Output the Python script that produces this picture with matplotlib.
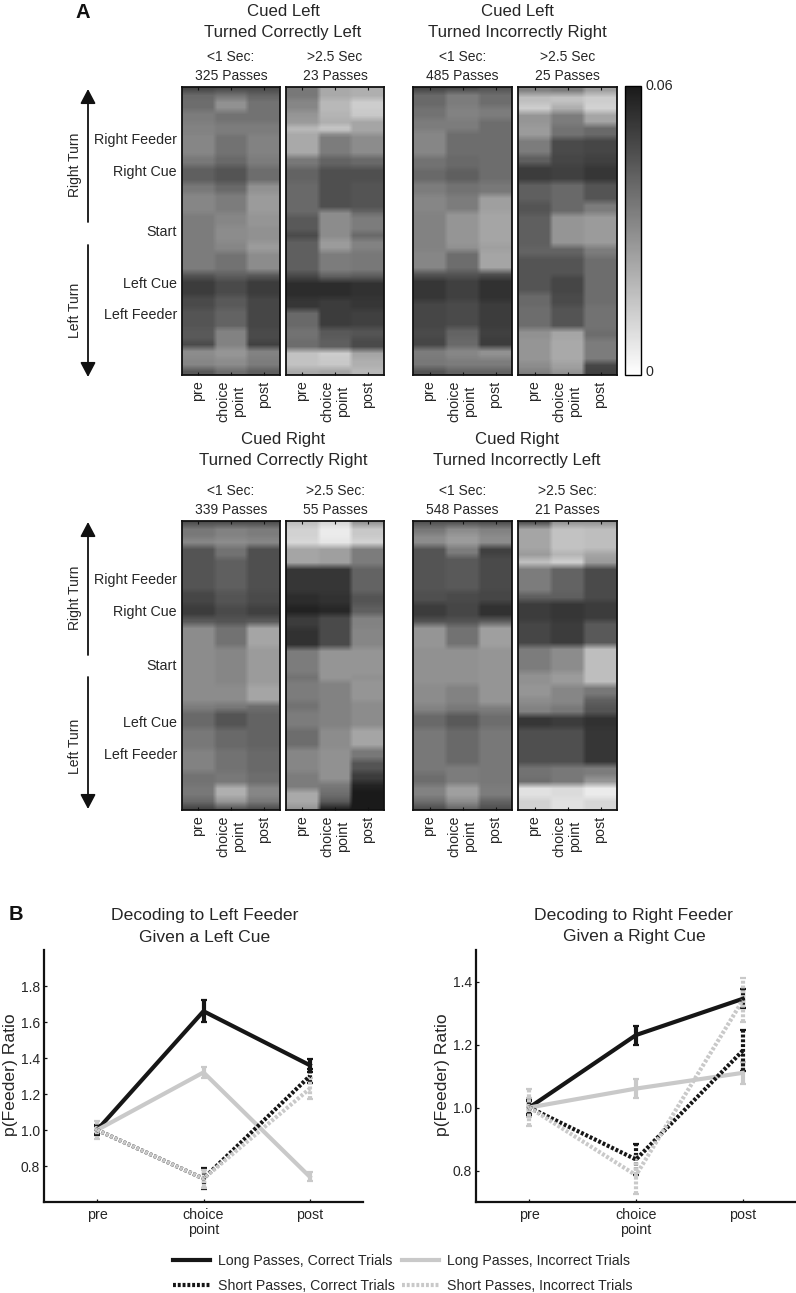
import numpy as np
import matplotlib
matplotlib.use("Agg")
import matplotlib.pyplot as plt
from matplotlib.colors import LinearSegmentedColormap
from matplotlib.transforms import ScaledTranslation

plt.rcParams['font.family'] = ['Liberation Sans', 'DejaVu Sans']
TXT = '#262626'

# ---- heat-map data: (band end, pre, choice, post), values are grey brightness
p325 = [(50,70,75,75),(70,105,115,100),(105,110,145,115),(140,125,115,115),(175,130,125,125),(240,135,115,130),
        (270,120,105,125),(320,95,85,110),(350,120,105,145),(410,135,125,155),(450,125,135,150),(500,125,140,145),
        (530,125,135,155),(590,125,115,140),(610,85,95,90),(660,60,75,60),(700,75,90,70),(760,85,100,70),
        (800,90,130,75),(820,75,130,65),(850,140,150,130),(880,135,140,125),(900,90,110,95)]
p23 = [(70,120,170,175),(105,135,185,205),(130,150,180,200),(150,155,175,165),(165,190,205,165),(175,170,165,165),
       (240,170,125,140),(275,120,100,105),(320,100,80,80),(405,105,80,85),(420,105,140,105),(470,90,140,125),
       (490,75,140,105),(525,95,155,130),(590,95,125,120),(610,70,95,90),(665,45,45,50),(705,55,60,55),
       (760,105,60,65),(790,115,90,85),(825,110,95,75),(850,195,205,165),(880,195,200,175),(900,170,165,185)]
p485 = [(50,70,75,85),(95,105,125,110),(130,115,130,125),(165,125,125,110),(240,135,110,110),(280,115,105,110),
        (320,105,95,110),(360,125,115,120),(410,135,125,160),(510,130,150,165),(530,130,145,160),(590,135,110,165),
        (610,85,85,80),(680,55,65,50),(760,70,75,60),(790,75,100,65),(820,70,105,60),(850,125,135,145),
        (880,120,125,125),(900,85,100,100)]
p25 = [(55,130,125,160),(85,190,195,205),(110,205,175,210),(150,150,125,165),(190,155,115,105),(240,125,75,70),
       (270,95,70,65),(320,60,65,55),(380,95,105,85),(415,85,105,125),(510,95,150,155),(540,100,100,125),
       (600,85,85,110),(650,85,70,110),(690,105,75,110),(760,110,85,115),(790,145,165,110),(860,150,170,125),
       (885,140,160,70),(900,125,145,65)]
p339 = [(35,80,80,80),(70,120,130,125),(95,135,140,135),(130,85,115,80),(230,85,95,80),(270,70,85,75),
        (305,60,75,65),(330,90,85,90),(395,140,115,165),(510,140,135,155),(565,140,140,165),(590,125,120,110),
        (640,105,85,100),(700,120,105,100),(770,130,115,105),(810,115,120,110),(850,120,175,135),(870,105,150,120),
        (885,70,90,80)]
p55 = [(35,190,215,150),(70,210,235,200),(95,215,230,210),(155,165,160,125),(235,55,55,100),(270,45,50,85),
       (300,35,40,95),(340,60,75,130),(400,50,75,135),(480,125,150,150),(500,115,150,145),(560,125,130,150),
       (590,115,130,140),(640,125,130,140),(700,110,140,165),(735,135,145,120),(770,135,145,85),(800,125,145,60),
       (825,125,120,35),(850,170,110,25),(870,170,90,20),(885,150,40,20)]
p548 = [(35,85,85,80),(60,120,140,130),(95,140,155,140),(125,85,125,65),(230,85,90,75),(265,80,75,70),
        (310,60,70,50),(330,85,85,95),(395,150,115,160),(510,145,145,150),(570,140,130,150),(595,130,120,125),
        (640,105,90,110),(750,120,105,120),(775,120,125,120),(810,110,125,120),(850,130,160,125),(870,110,140,100),
        (885,80,105,80)]
p21 = [(35,85,150,150),(110,165,195,190),(130,155,180,165),(155,190,205,155),(235,125,100,75),(260,95,95,75),
       (320,60,55,60),(395,70,60,90),(470,125,140,190),(510,145,155,190),(545,150,135,120),(570,140,135,95),
       (600,130,120,85),(640,55,60,50),(750,80,80,55),(785,115,120,125),(810,110,120,150),(850,225,220,235),
       (885,210,225,215)]

columns = ['pre', 'choice\npoint', 'post']
top_titles = [('Cued Left\nTurned Correctly Left', 283), ('Cued Left\nTurned Incorrectly Right', 517)]
bottom_titles = [('Cued Right\nTurned Correctly Right', 283), ('Cued Right\nTurned Incorrectly Left', 517)]
top_subs = ['<1 Sec:\n325 Passes', '>2.5 Sec\n23 Passes', '<1 Sec:\n485 Passes', '>2.5 Sec\n25 Passes']
bottom_subs = ['<1 Sec:\n339 Passes', '>2.5 Sec:\n55 Passes', '<1 Sec:\n548 Passes', '>2.5 Sec:\n21 Passes']
loc_names = ['Right Feeder', 'Right Cue', 'Start', 'Left Cue', 'Left Feeder']
top_loc_px = [140, 172, 232, 284, 315]
bottom_loc_px = [580, 612, 666, 723, 755]

# ---- line data
x_pos = [1, 2, 3]
x_labels = ['pre', 'choice\npoint', 'post']
L_long_cor, L_long_cor_e = [1.0, 1.66, 1.36], [0.02, 0.06, 0.035]
L_long_inc, L_long_inc_e = [1.0, 1.32, 0.74], [0.03, 0.03, 0.025]
L_short_cor, L_short_cor_e = [1.0, 0.73, 1.30], [0.03, 0.06, 0.04]
L_short_inc, L_short_inc_e = [1.0, 0.73, 1.23], [0.05, 0.05, 0.06]
R_long_cor, R_long_cor_e = [1.0, 1.23, 1.345], [0.02, 0.03, 0.03]
R_long_inc, R_long_inc_e = [1.0, 1.06, 1.11], [0.03, 0.03, 0.035]
R_short_cor, R_short_cor_e = [1.0, 0.835, 1.18], [0.025, 0.05, 0.065]
R_short_inc, R_short_inc_e = [1.0, 0.785, 1.34], [0.06, 0.06, 0.07]

W, H = 796, 1293
fig = plt.figure(figsize=(W/100, H/100), dpi=100, facecolor='white')

def axpx(x0, y0, x1, y1):
    return fig.add_axes([x0/W, 1-y1/H, (x1-x0)/W, (y1-y0)/H])

def ftext(x, y, s, **kw):
    kw.setdefault('color', TXT)
    return fig.text(x/W, 1-y/H, s, **kw)

cmap = LinearSegmentedColormap.from_list('g', ['#ffffff', '#1a1a1a'])

def soften(a, n, axis):
    k = np.ones(n)/n
    pw = [(0, 0), (0, 0)]
    pw[axis] = (n//2, n//2)
    pad = np.pad(a, pw, mode='edge')
    return np.apply_along_axis(lambda v: np.convolve(v, k, mode='valid'), axis, pad)

def expand(bands, start):
    out, prev = [], start
    for b in bands:
        n = max(1, int(round((b[0]-prev)/3)))
        out += [b[1:]]*n
        prev = b[0]
    a = np.repeat(np.array(out, float), 33, axis=1)
    a = soften(soften(a, 7, 0), 5, 1)
    return 0.06*(255-a)/(255-26)

def heat(x0, x1, y0, y1, bands, start):
    ax = axpx(x0, y0, x1, y1)
    im = ax.imshow(expand(bands, start), cmap=cmap, vmin=0, vmax=0.06, aspect='auto',
                   interpolation='nearest', extent=(0, 3, 1, 0))
    ax.set_xticks([0.5, 1.5, 2.5])
    ax.set_xticklabels(columns, rotation=90, fontsize=10.3, color=TXT, linespacing=1.15, va='top')
    ax.tick_params(axis='x', direction='in', length=2, width=0.8, top=True, pad=4, color='#111111')
    ax.set_yticks([])
    for s in ax.spines.values():
        s.set_linewidth(1.3)
        s.set_color('#111111')
    return im

xs = [(182, 280), (286, 384), (413, 512), (518, 617)]
for (a, b), bands in zip(xs, [p325, p23, p485, p25]):
    im = heat(a, b, 87, 375, bands, 35)
for (a, b), bands in zip(xs, [p339, p55, p548, p21]):
    heat(a, b, 521, 810, bands, 20)

# colour bar
cax = axpx(625, 86, 641, 375)
cb = fig.colorbar(im, cax=cax, ticks=[0, 0.06])
cb.ax.set_yticklabels(['0', '0.06'], fontsize=10.3, color=TXT)
cb.ax.tick_params(length=0, pad=3)
cb.outline.set_linewidth(1.0)
for lab, dy in zip(cb.ax.get_yticklabels(), [4, 2]):
    lab.set_transform(lab.get_transform() + ScaledTranslation(0, dy/100, fig.dpi_scale_trans))

for (s, cx) in top_titles:
    ftext(cx, 22, s, ha='center', va='center', fontsize=12.1, linespacing=1.48)
for (s, cx) in bottom_titles:
    ftext(cx, 450, s, ha='center', va='center', fontsize=12.1, linespacing=1.48)
for (a, b), s in zip(xs, top_subs):
    ftext((a+b)/2, 66.5, s, ha='center', va='center', fontsize=10, linespacing=1.5)
for (a, b), s in zip(xs, bottom_subs):
    ftext((a+b)/2, 500.5, s, ha='center', va='center', fontsize=10, linespacing=1.5)
for n, y in zip(loc_names, top_loc_px):
    ftext(177, y, n, ha='right', va='center', fontsize=10.3)
for n, y in zip(loc_names, bottom_loc_px):
    ftext(177, y, n, ha='right', va='center', fontsize=10.3)

def arrow(y0, y1):
    fig.add_artist(matplotlib.patches.FancyArrowPatch(
        (88/W, 1-y0/H), (88/W, 1-y1/H), transform=fig.transFigure,
        arrowstyle='-|>,head_length=5.5,head_width=2.9', lw=1.3, color='#111111',
        shrinkA=0, shrinkB=0, mutation_scale=1.6))

arrow(222, 89); arrow(245, 377); arrow(655, 522); arrow(677, 809)
for y, s in [(165, 'Right Turn'), (310, 'Left Turn'), (598, 'Right Turn'), (746, 'Left Turn')]:
    ftext(75, y, s, rotation=90, ha='center', va='center', fontsize=10)

ftext(76, 12, 'A', fontweight='bold', fontsize=14.5, ha='left', va='center', color='#111111')
ftext(9, 915, 'B', fontweight='bold', fontsize=14.5, ha='left', va='center', color='#111111')

# ---- line panels
BLK, GRY = '#161616', '#c9c9c9'
DASH = (0, (0.7, 0.45))
styles = [('Long Passes, Correct Trials', BLK, '-'), ('Long Passes, Incorrect Trials', GRY, '-'),
          ('Short Passes, Correct Trials', BLK, DASH), ('Short Passes, Incorrect Trials', GRY, DASH)]

def lines(ax, series):
    hs = []
    for (lab, c, ls), (v, e) in zip(styles, series):
        cont = ax.errorbar(x_pos, v, yerr=e, color=c, lw=3, elinewidth=3, capsize=2, capthick=1.6, label=lab)
        cont[0].set_linestyle(ls)
        for b in cont[2]:
            b.set_linestyle(ls)
        hs.append(cont[0])
    return hs

def style(ax, ylim, yt):
    ax.set_xlim(0.5, 3.5)
    ax.set_ylim(*ylim)
    ax.set_xticks(x_pos)
    ax.set_xticklabels(x_labels, fontsize=10.3, color=TXT, linespacing=1.15)
    ax.set_yticks(yt)
    ax.set_yticklabels(['%.1f' % t for t in yt], fontsize=10, color=TXT)
    ax.tick_params(axis='both', direction='in', length=2, width=0.9, color='#111111')
    ax.tick_params(axis='x', pad=4)
    ax.tick_params(axis='y', pad=3)
    for s in ['top', 'right']:
        ax.spines[s].set_visible(False)
    for s in ['left', 'bottom']:
        ax.spines[s].set_linewidth(1.6)
        ax.spines[s].set_color('#111111')
    ax.patch.set_alpha(0)

a1 = axpx(44, 950, 363, 1202)
h1 = lines(a1, [(L_long_cor, L_long_cor_e), (L_long_inc, L_long_inc_e),
                (L_short_cor, L_short_cor_e), (L_short_inc, L_short_inc_e)])
style(a1, (0.6, 2.0), [0.8, 1.0, 1.2, 1.4, 1.6, 1.8])
a2 = axpx(476, 950, 796, 1202)
lines(a2, [(R_long_cor, R_long_cor_e), (R_long_inc, R_long_inc_e),
           (R_short_cor, R_short_cor_e), (R_short_inc, R_short_inc_e)])
style(a2, (0.7, 1.5), [0.8, 1.0, 1.2, 1.4])

ftext(205, 926.5, 'Decoding to Left Feeder\nGiven a Left Cue', ha='center', va='center', fontsize=12.6, linespacing=1.52)
ftext(634, 926, 'Decoding to Right Feeder\nGiven a Right Cue', ha='center', va='center', fontsize=12.6, linespacing=1.52)
ftext(11, 1075, 'p(Feeder) Ratio', rotation=90, ha='center', va='center', fontsize=12.6)
ftext(442, 1075, 'p(Feeder) Ratio', rotation=90, ha='center', va='center', fontsize=12.6)

order = [0, 2, 1, 3]
leg = fig.legend([h1[i] for i in order], [styles[i][0] for i in order], ncol=2, loc='upper left',
                 bbox_to_anchor=(173/W, 1-1254/H), bbox_transform=fig.transFigure,
                 frameon=False, fontsize=10.2, labelcolor=TXT, borderaxespad=0, borderpad=0,
                 handlelength=2.6, handletextpad=0.55, columnspacing=0.55, labelspacing=0.75)

fig.savefig('out.png', dpi=100, facecolor='white')
